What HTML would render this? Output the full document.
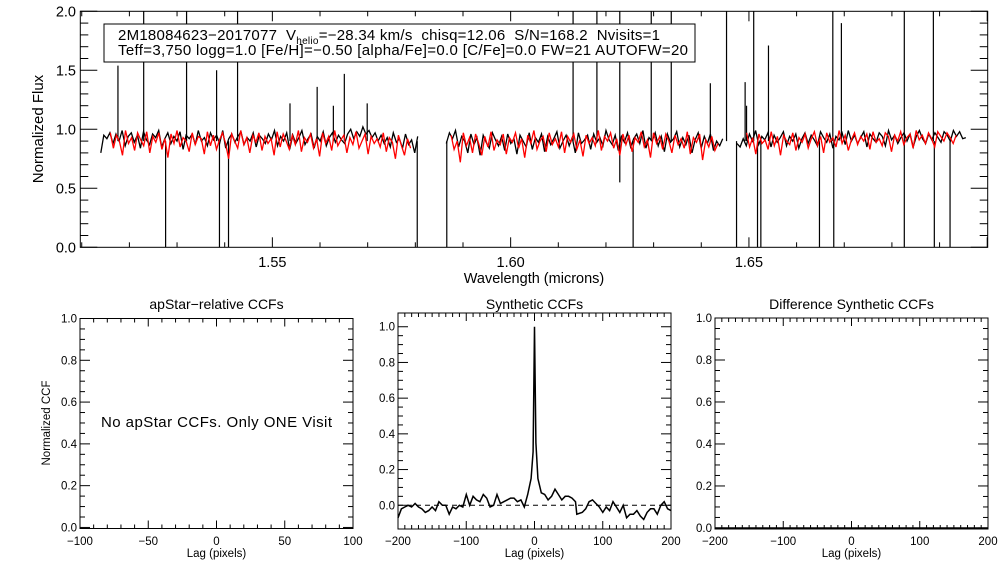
<!DOCTYPE html>
<html><head><meta charset="utf-8"><style>
html,body{margin:0;padding:0;background:#fff;}
svg{display:block;font-family:"Liberation Sans",Arial,sans-serif;}
</style></head><body>
<svg id="s" width="1008" height="576" viewBox="0 0 1008 576">
<rect width="1008" height="576" fill="#fff"/>
</svg>
<script>
// ---- top spectrum data (flux x100), per chip ----
const chipRangesBlack=[[1.5140,1.5805],[1.5865,1.6445],[1.6475,1.6955]];
const chipRangesRed=[[1.5160,1.5790],[1.5875,1.6435],[1.6495,1.6935]];
const black1=[80,95,92,97,88,96,90,99,86,94,97,89,95,84,98,91,87,96,93,99,85,92,97,88,94,90,98,83,95,92,96,87,99,90,93,86,97,91,95,88,99,84,92,96,89,94,98,87,93,90,97,85,95,92,88,96,91,99,86,94,90,97,83,95,88,93,99,87,92,96,84,94,90,98,86,93,97,89,95,91,88,96,100,92,98,94,102,96,99,93,97,90,95,88,93,85,97,89,92,84,96,87,91,80,94];
const red1=[97,84,95,90,78,99,88,93,82,97,91,86,98,80,94,89,97,83,92,76,96,88,99,85,93,90,81,97,87,94,92,79,98,86,95,83,91,97,88,75,96,90,84,99,87,93,80,95,89,97,82,94,88,92,78,98,85,96,90,83,95,87,99,81,93,89,96,84,92,77,97,88,94,82,99,86,91,95,80,93,87,98,84,90,96,79,94,88,92,85,97,81,93,89,75,95,86,78,92,84];
const black2=[88,97,92,99,85,94,90,80,96,87,93,78,95,89,84,97,91,86,94,82,96,88,92,79,95,90,85,97,83,93,89,96,81,94,87,92,98,84,90,95,86,93,80,97,88,91,95,83,96,89,93,86,99,91,87,95,82,94,89,97,85,92,96,88,99,84,93,90,97,86,94,81,96,89,92,98,85,93,87,95,80,91,97,84,94,88,96,82,90,86,92];
const red2=[95,83,90,72,97,86,93,80,96,88,78,94,85,98,82,91,87,96,79,93,89,97,84,92,76,95,88,99,83,90,94,81,97,87,92,85,98,80,94,89,96,83,91,77,95,88,93,86,99,82,94,90,97,84,92,78,96,87,95,81,93,89,98,85,91,76,97,88,94,83,96,90,80,95,87,92,84,98,79,93,89,96,74,91,85,94,82,88];
const black3=[88,85,92,86,96,90,99,87,94,91,97,85,95,89,93,98,86,94,90,96,84,92,97,88,95,91,86,98,93,89,96,84,94,91,97,87,99,90,95,88,93,98,85,96,92,89,97,94,86,99,91,95,88,93,97,90,96,85,94,99,92,88,96,91,97,93,89,98,95,90,99,94,98,92,93];
const red3=[97,85,93,79,96,88,91,83,98,86,94,78,95,90,87,97,82,93,89,96,84,92,98,86,94,80,97,89,93,85,99,88,95,82,91,97,87,94,90,96,83,98,89,92,86,97,94,81,95,90,98,87,93,96,84,99,91,95,88,97,92,85,98,94,90,97,93,88,95];
const spikeWave=[1.5176,1.5230,1.5276,1.5320,1.5383,1.5389,1.5408,1.5427,1.5537,1.5594,1.5628,1.5651,1.5699,1.5804,1.5866,1.6131,1.6181,1.6229,1.6229,1.6257,1.6295,1.6337,1.6419,1.6453,1.6474,1.6492,1.6495,1.6510,1.6518,1.6525,1.6541,1.6648,1.6676,1.6678,1.6694,1.6826,1.6826,1.6887,1.6889,1.6922];
const spikeFlux=[1.54,2.05,0.0,2.05,1.5,0.0,0.0,2.05,1.22,1.36,1.2,1.47,1.22,0.0,0.0,2.05,2.05,2.05,0.55,0.0,2.05,2.05,1.39,2.05,0.0,1.4,1.2,2.05,0.0,0.0,1.71,0.0,2.05,0.0,1.9,2.05,0.0,2.05,0.0,0.0];
const topXTicks=[1.55,1.60,1.65];
const topYTicks=[0.0,0.5,1.0,1.5,2.0];
// ---- CCF data ----
const ccfLag=[-200,-195,-190,-185,-180,-175,-170,-165,-160,-155,-150,-145,-140,-135,-130,-125,-120,-115,-110,-105,-100,-95,-90,-85,-80,-75,-70,-65,-60,-55,-50,-45,-40,-35,-30,-25,-20,-15,-10,-5,-2,0,2,5,10,15,20,25,30,35,40,45,50,55,60,62,70,75,80,85,90,95,100,105,110,115,120,125,130,135,140,145,150,155,160,165,170,175,180,185,190,195,200];
const ccfVal=[-0.07,-0.02,-0.01,0.0,-0.01,0.01,-0.01,-0.02,-0.04,-0.03,-0.01,-0.03,0.02,0.0,0.0,-0.05,-0.01,-0.02,0.0,-0.01,0.06,0.0,0.05,0.03,0.02,0.06,0.04,-0.01,0.0,0.06,0.01,0.02,0.03,0.04,0.04,0.02,0.03,-0.01,0.06,0.15,0.3,1.0,0.35,0.15,0.07,0.06,0.03,0.05,0.09,0.06,0.03,0.05,0.05,0.04,0.02,-0.05,-0.04,-0.02,0.02,0.03,0.01,-0.01,-0.04,-0.01,-0.03,0.02,-0.01,-0.04,0.0,-0.07,-0.05,-0.05,-0.03,-0.06,-0.08,-0.04,-0.02,-0.02,-0.05,0.0,0.02,-0.02,-0.03];
const ccfYTicks=[0.0,0.2,0.4,0.6,0.8,1.0];

const NS='http://www.w3.org/2000/svg';
const svg=document.getElementById('s');
function el(tag,attrs,parent){const e=document.createElementNS(NS,tag);for(const k in attrs)e.setAttribute(k,attrs[k]);(parent||svg).appendChild(e);return e;}
function txt(x,y,s,size,anchor,parent){const t=el('text',{x:x,y:y,'font-size':size,'text-anchor':anchor||'middle',fill:'#000'},parent);t.textContent=s;return t;}

// ===== top panel =====
const TX0=80.3,TX1=987.7,TY0=11.3,TY1=247.3,WMIN=1.5097,WMAX=1.7001,FMIN=0,FMAX=2.0;
const xT=w=>TX0+(w-WMIN)/(WMAX-WMIN)*(TX1-TX0);
const yT=f=>TY1-(f-FMIN)/(FMAX-FMIN)*(TY1-TY0);
const topG=el('g',{});


const clip=el('clipPath',{id:'tc'});el('rect',{x:TX0,y:TY0,width:TX1-TX0,height:TY1-TY0},clip);
const plotArea=el('g',{'clip-path':'url(#tc)'},topG);
function series(arr,rng,color,name){
  const pts=arr.map((v,i)=>{const w=rng[0]+(rng[1]-rng[0])*i/(arr.length-1);return xT(w).toFixed(1)+','+yT(v/100).toFixed(1);}).join(' ');
  const p=el('polyline',{points:pts,fill:'none',stroke:color,'stroke-width':1.3},plotArea);
  
  
}
[black1,black2,black3].forEach((a,i)=>series(a,chipRangesBlack[i],'#000','observed-spectrum-chip-'+(i+1)));
spikeWave.forEach((w,i)=>{
  const l=el('line',{x1:xT(w),x2:xT(w),y1:yT(0.9),y2:yT(spikeFlux[i]),stroke:'#000','stroke-width':1.2},plotArea);
  
  
});
[red1,red2,red3].forEach((a,i)=>series(a,chipRangesRed[i],'#ff0000','model-spectrum-chip-'+(i+1)));
el('rect',{x:TX0,y:TY0,width:TX1-TX0,height:TY1-TY0,fill:'none',stroke:'#000','stroke-width':1},topG);
for(let k=0;k<=20;k++){const f=k/10;const maj=k%5==0;const L=maj?17:8;
  el('line',{x1:TX0,x2:TX0+L,y1:yT(f),y2:yT(f),stroke:'#000'},topG);el('line',{x1:TX1,x2:TX1-L,y1:yT(f),y2:yT(f),stroke:'#000'},topG);}
for(let k=151;k<=170;k++){const w=k/100;const maj=k%5==0;const L=maj?10:5;
  el('line',{x1:xT(w),x2:xT(w),y1:TY1,y2:TY1-L,stroke:'#000'},topG);el('line',{x1:xT(w),x2:xT(w),y1:TY0,y2:TY0+L,stroke:'#000'},topG);}
topYTicks.forEach(v=>{const t=txt(76,yT(v)+5,v.toFixed(1),14.5,'end',topG);});
topXTicks.forEach(v=>{const t=txt(xT(v),267,v.toFixed(2),14.5,'middle',topG);});
const xtt=txt(534,283,'Wavelength (microns)',14.5,'middle',topG);
const ytt=txt(0,0,'Normalized Flux',15,'middle',topG);ytt.setAttribute('transform','translate(43,129) rotate(-90)');
const leg=el('g',{},topG);
el('rect',{x:104,y:24,width:591,height:38,fill:'#fff',stroke:'#000'},leg);
const l1=el('text',{x:118,y:40,'font-size':15,fill:'#000',textLength:542,lengthAdjust:'spacing'},leg);
l1.innerHTML='2M18084623\u22122017077&#160;&#160;V<tspan font-size="10" dy="4">helio</tspan><tspan dy="-4">=\u221228.34 km/s&#160;&#160;chisq=12.06&#160;&#160;S/N=168.2&#160;&#160;Nvisits=1</tspan>';
const l2=txt(118,55,'Teff=3,750 logg=1.0 [Fe/H]=\u22120.50 [alpha/Fe]=0.0 [C/Fe]=0.0 FW=21 AUTOFW=20',15,'start',leg);
l2.setAttribute('textLength','570');l2.setAttribute('lengthAdjust','spacing');

// ===== CCF panels =====
function panel(x0,x1,y0,y1,xmin,xmax,ymin,ymax,xticks,xminor,title,name){
  const g=el('g',{});
  const X=v=>x0+(v-xmin)/(xmax-xmin)*(x1-x0);const Y=v=>y1-(v-ymin)/(ymax-ymin)*(y1-y0);
  el('rect',{x:x0,y:y0,width:x1-x0,height:y1-y0,fill:'none',stroke:'#000'},g);
  for(let k=0;k<=20;k++){const v=k/20;const maj=k%4==0;const L=maj?10:5;
    el('line',{x1:x0,x2:x0+L,y1:Y(v),y2:Y(v),stroke:'#000'},g);el('line',{x1:x1,x2:x1-L,y1:Y(v),y2:Y(v),stroke:'#000'},g);}
  for(let v=xmin;v<=xmax+1e-6;v+=xminor){const maj=xticks.some(t=>Math.abs(t-v)<1e-6);const L=maj?8:4;
    el('line',{x1:X(v),x2:X(v),y1:y1,y2:y1-L,stroke:'#000'},g);el('line',{x1:X(v),x2:X(v),y1:y0,y2:y0+L,stroke:'#000'},g);}
  ccfYTicks.forEach(v=>{const t=txt(x0-3,Y(v)+4,v.toFixed(1),11.5,'end',g);});
  xticks.forEach(v=>{const t=txt(X(v),545,v<0?'\u2212'+(-v):String(v),11.5,'middle',g);});
  const xa=txt((x0+x1)/2,557,'Lag (pixels)',11.5,'middle',g);
  const tt=txt((x0+x1)/2,309,title,14,'middle',g);
  return {g,X,Y};
}
const pL=panel(80,353,318.5,528.5,-100,100,-0.005,1.0,[-100,-50,0,50,100],10,'apStar\u2212relative CCFs','apstar-ccf-panel');
const yl=txt(0,0,'Normalized CCF',11.5,'middle',pL.g);yl.setAttribute('transform','translate(50,423) rotate(-90)');
const msg=txt(101,427,'No apStar CCFs.  Only ONE Visit',15,'start',pL.g);msg.setAttribute('textLength','231');msg.setAttribute('lengthAdjust','spacing');

const pM=panel(398,671,313,529,-200,200,-0.133,1.077,[-200,-100,0,100,200],10,'Synthetic CCFs','synthetic-ccf-panel');
const dz=el('line',{x1:398,x2:671,y1:pM.Y(0),y2:pM.Y(0),stroke:'#000','stroke-dasharray':'5,4'},pM.g);

const cl=el('polyline',{points:ccfLag.map((l,i)=>pM.X(l).toFixed(1)+','+pM.Y(ccfVal[i]).toFixed(1)).join(' '),fill:'none',stroke:'#000','stroke-width':1.5},pM.g);


const pR=panel(715,988,318,529,-200,200,-0.005,1.0,[-200,-100,0,100,200],10,'Difference Synthetic CCFs','difference-ccf-panel');
const zl=el('line',{x1:715,x2:988,y1:pR.Y(0),y2:pR.Y(0),stroke:'#000','stroke-width':1.5},pR.g);

</script>
</body></html>
